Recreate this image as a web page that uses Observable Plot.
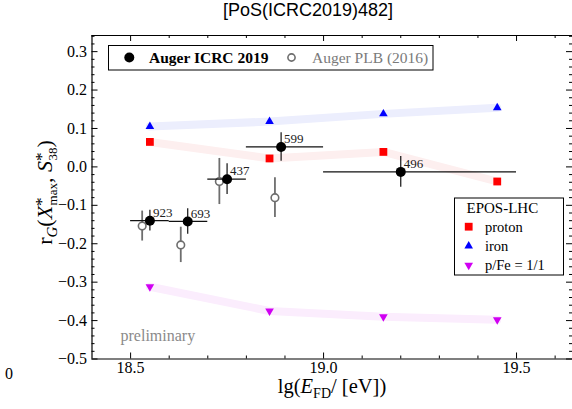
<!DOCTYPE html>
<html>
<head>
<meta charset="utf-8">
<script src="https://cdn.jsdelivr.net/npm/d3@7"></script>
<script src="https://cdn.jsdelivr.net/npm/@observablehq/plot@0.6"></script>
<style>
  html, body { margin: 0; padding: 0; background: #fff; }
  #title {
    width: 572px; height: 25px; box-sizing: border-box; padding-left: 44px;
    text-align: center; line-height: 27px;
    font: 18px "Liberation Sans", Arial, sans-serif; color: #000;
  }
  #chart svg { display: block; }
</style>
</head>
<body>
<div id="title">[PoS(ICRC2019)482]</div>
<div id="chart"></div>
<script>
// EPOS-LHC expectations, evaluated at four energies
const modelLgE = [18.55, 18.86, 19.155, 19.45];
const protonR  = [0.065, 0.022, 0.039, -0.038];
const ironR    = [0.105, 0.118, 0.138, 0.154];
const mixR     = [-0.312, -0.375, -0.390, -0.398];

// Auger ICRC 2019: bin centre, bin edges, correlation, stat. error, event count
const icrcLgE = [18.55, 18.648, 18.75, 18.89, 19.2];
const icrcLo  = [18.5, 18.6, 18.7, 18.8, 19.0];
const icrcHi  = [18.6, 18.7, 18.8, 19.0, 19.5];
const icrcR   = [-0.140, -0.142, -0.032, 0.052, -0.013];
const icrcErr = [0.027, 0.033, 0.040, 0.037, 0.040];
const icrcN   = ["923", "693", "437", "599", "496"];

// Auger PLB (2016)
const plbLgE = [18.53, 18.63, 18.73, 18.874];
const plbR   = [-0.154, -0.203, -0.038, -0.080];
const plbErr = [0.039, 0.046, 0.060, 0.052];

// axis ticks
const xMajor = [18.5, 19.0, 19.5];
const xMinor = [18.6, 18.7, 18.8, 18.9, 19.1, 19.2, 19.3, 19.4, 19.6];
const yMajor = [-0.5, -0.4, -0.3, -0.2, -0.1, 0.0, 0.1, 0.2, 0.3];
const yMinor = d3.range(-48, 35, 2).map(v => v / 100).filter(v => Math.abs(Math.round(v * 10) - v * 10) > 1e-6);

const xDomain = [18.4, 19.645];
const yDomain = [-0.5, 0.342];

const W = 572, H = 384;
const M = {left: 91.5, right: 0, top: 10, bottom: 50.5};
// tick lengths are given in pixels; convert them to data units along each axis
const pxX = (W - M.left - M.right) / (xDomain[1] - xDomain[0]);
const pxY = (H - M.top - M.bottom) / (yDomain[1] - yDomain[0]);

const model = (ys) => modelLgE.map((x, i) => ({x, y: ys[i]}));
const proton = model(protonR), iron = model(ironR), mix = model(mixR);
const icrc = icrcLgE.map((x, i) => ({x, lo: icrcLo[i], hi: icrcHi[i], r: icrcR[i], err: icrcErr[i], n: icrcN[i]}));
const plb = plbLgE.map((x, i) => ({x, r: plbR[i], err: plbErr[i]}));

// downward-pointing triangle
const triangleDown = {
  draw(context, size) {
    const y = Math.sqrt(size / (Math.sqrt(3) * 3));
    context.moveTo(0, 2 * y);
    context.lineTo(-Math.sqrt(3) * y, -y);
    context.lineTo(Math.sqrt(3) * y, -y);
    context.closePath();
  }
};

const RED = "#ff0000", BLUE = "#0000ff", MAG = "#d000f2";
const GREY = "#6e6e6e";
const fmt = d3.format(".1f");
const serif = '"Liberation Serif", "Times New Roman", serif';

// inward tick marks on all four sides
function ticksY(values, len) {
  return [
    Plot.ruleY(values, {x1: xDomain[0], x2: xDomain[0] + len / pxX, stroke: "#000", strokeWidth: 1}),
    Plot.ruleY(values, {x1: xDomain[1], x2: xDomain[1] - len / pxX, stroke: "#000", strokeWidth: 1})
  ];
}
function ticksX(values, len) {
  return [
    Plot.ruleX(values, {y1: yDomain[0], y2: yDomain[0] + len / pxY, stroke: "#000", strokeWidth: 1}),
    Plot.ruleX(values, {y1: yDomain[1], y2: yDomain[1] - len / pxY, stroke: "#000", strokeWidth: 1})
  ];
}

const plot = Plot.plot({
  width: W, height: H,
  marginLeft: M.left, marginRight: M.right, marginTop: M.top, marginBottom: M.bottom,
  x: {domain: xDomain, label: null},
  y: {domain: yDomain, label: null},
  style: {fontFamily: serif, fontSize: "16px", color: "#000", background: "#fff", overflow: "visible"},
  marks: [
    // model bands
    Plot.line(iron,   {x: "x", y: "y", stroke: "#eceefd", strokeWidth: 8}),
    Plot.line(proton, {x: "x", y: "y", stroke: "#fdefef", strokeWidth: 8}),
    Plot.line(mix,    {x: "x", y: "y", stroke: "#fbedfd", strokeWidth: 8}),
    Plot.dot(proton, {x: "x", y: "y", symbol: "square", r: 4.4, fill: RED}),
    Plot.dot(iron,   {x: "x", y: "y", symbol: "triangle", r: 3.2, fill: BLUE}),
    Plot.dot(mix,    {x: "x", y: "y", symbol: triangleDown, r: 3.2, fill: MAG}),

    // Auger PLB (2016)
    Plot.ruleX(plb, {x: "x", y1: d => d.r - d.err, y2: d => d.r + d.err, stroke: GREY, strokeWidth: 1.8}),
    Plot.dot(plb, {x: "x", y: "r", r: 3.8, stroke: GREY, strokeWidth: 1.6, fill: "#fff"}),

    // Auger ICRC 2019
    Plot.ruleY(icrc, {y: "r", x1: "lo", x2: "hi", stroke: "#111", strokeWidth: 1.2}),
    Plot.ruleX(icrc, {x: "x", y1: d => d.r - d.err, y2: d => d.r + d.err, stroke: "#111", strokeWidth: 1.2}),
    Plot.dot(icrc, {x: "x", y: "r", r: 5, fill: "#000"}),
    Plot.text(icrc, {x: "x", y: "r", text: "n", dx: 3, dy: -8, textAnchor: "start", fontSize: 13, fill: "#222"}),

    Plot.text(["preliminary"], {frameAnchor: "bottom-left", dx: 28.5, dy: -18, textAnchor: "start", lineAnchor: "bottom", fontSize: 16, fill: "#8a8a8a"}),

    // frame (left, bottom, top)
    Plot.ruleX([xDomain[0]], {stroke: "#000", strokeWidth: 1.2}),
    Plot.ruleY([yDomain[0], yDomain[1]], {stroke: "#000", strokeWidth: 1.2}),

    ...ticksY(yMajor, 6), ...ticksY(yMinor, 3),
    ...ticksX(xMajor, 6), ...ticksX(xMinor, 3),

    // tick labels
    Plot.axisY(yMajor, {anchor: "left", tickSize: 0, tickPadding: 5, tickFormat: fmt, fontSize: 16, label: null}),
    Plot.axisX(xMajor, {anchor: "bottom", tickSize: 0, tickPadding: 3, tickFormat: fmt, fontSize: 16, label: null})
  ]
});

document.getElementById("chart").appendChild(plot);

const svg = d3.select(plot);

// axis titles
const xl = svg.append("text")
  .attr("x", 332).attr("y", 368).attr("text-anchor", "middle")
  .style("font-family", serif).style("font-size", "20.5px").attr("fill", "#000");
xl.append("tspan").text("lg(");
xl.append("tspan").attr("font-style", "italic").text("E");
xl.append("tspan").attr("font-size", "14px").attr("dy", 5).text("FD");
xl.append("tspan").attr("dy", -5).text("/ [eV])");

const yl = svg.append("text")
  .attr("transform", "translate(52,167.5) rotate(-90)").attr("text-anchor", "middle")
  .style("font-family", serif).style("font-size", "22px").attr("fill", "#000")
  .attr("xml:space", "preserve");
yl.append("tspan").text("r");
yl.append("tspan").attr("font-style", "italic").attr("font-size", "15px").attr("dy", 5).text("G");
yl.append("tspan").attr("dy", -5).text("(");
yl.append("tspan").attr("font-style", "italic").text("X");
yl.append("tspan").attr("font-size", "17px").attr("dy", -5).text("*");
yl.append("tspan").attr("font-size", "13px").attr("dx", -8).attr("dy", 10).text("max");
yl.append("tspan").attr("dy", -5).text(", ");
yl.append("tspan").attr("font-style", "italic").text("S");
yl.append("tspan").attr("font-size", "17px").attr("dy", -5).text("*");
yl.append("tspan").attr("font-size", "13px").attr("dx", -8).attr("dy", 10).text("38");
yl.append("tspan").attr("dy", -5).text(")");

// stray zero at lower left
svg.append("text").attr("x", 5).attr("y", 354).attr("text-anchor", "start")
  .style("font-family", serif).style("font-size", "16px").text("0");

// data legend
const lg1 = svg.append("g").attr("text-anchor", "start");
lg1.append("rect").attr("x", 108.5).attr("y", 20.5).attr("width", 324.5).attr("height", 24.5)
  .attr("fill", "#fff").attr("stroke", "#000").attr("stroke-width", 1);
lg1.append("circle").attr("cx", 129.3).attr("cy", 32.5).attr("r", 5).attr("fill", "#000");
lg1.append("text").attr("x", 149).attr("y", 38).style("font-family", serif)
  .style("font-size", "15.5px").style("font-weight", "bold").text("Auger ICRC 2019");
lg1.append("circle").attr("cx", 291.5).attr("cy", 32.5).attr("r", 3.6)
  .attr("fill", "#fff").attr("stroke", GREY).attr("stroke-width", 1.6);
lg1.append("text").attr("x", 312).attr("y", 38).style("font-family", serif)
  .style("font-size", "15.5px").attr("fill", "#7a7a7a").text("Auger PLB (2016)");

// model legend
const lg2 = svg.append("g").attr("text-anchor", "start");
lg2.append("rect").attr("x", 454.5).attr("y", 173).attr("width", 109).attr("height", 77)
  .attr("fill", "#fff").attr("stroke", "#000").attr("stroke-width", 1);
lg2.append("text").attr("x", 466.5).attr("y", 187.5).style("font-family", serif)
  .style("font-size", "15px").text("EPOS-LHC");
const entries = [
  {label: "proton", sym: d3.symbolSquare, size: 4.4 * 4.4 * Math.PI, fill: RED, y: 201.7},
  {label: "iron", sym: d3.symbolTriangle, size: 3.2 * 3.2 * Math.PI, fill: BLUE, y: 221},
  {label: "p/Fe = 1/1", sym: triangleDown, size: 3.2 * 3.2 * Math.PI, fill: MAG, y: 240.3}
];
for (const e of entries) {
  lg2.append("path").attr("transform", `translate(468.7,${e.y})`)
    .attr("d", d3.symbol(e.sym, e.size)()).attr("fill", e.fill);
  lg2.append("text").attr("x", 485).attr("y", e.y + 5).style("font-family", serif)
    .style("font-size", "14.5px").text(e.label);
}
</script>
</body>
</html>
